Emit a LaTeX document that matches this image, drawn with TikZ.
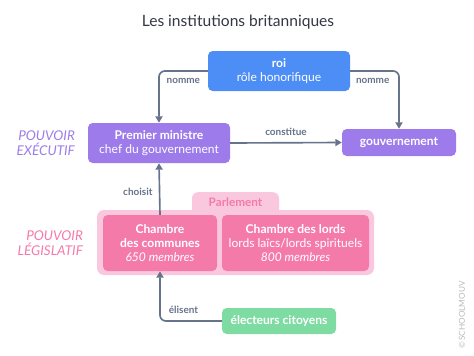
\documentclass[tikz,border=0pt]{standalone}
\usepackage{fontspec}
\setmainfont{Lato}
\usepackage{tikz}
\usetikzlibrary{arrows.meta, positioning, calc}
\definecolor{roiblue}{RGB}{76, 141, 246}
\definecolor{execpurple}{RGB}{157, 123, 234}
\definecolor{legipink}{RGB}{244, 122, 170}
\definecolor{parlbg}{RGB}{250, 200, 222}
\definecolor{votegreen}{RGB}{126, 220, 162}
\definecolor{linkgray}{RGB}{102, 115, 138}
\definecolor{titlegray}{RGB}{51, 56, 68}
\definecolor{markgray}{RGB}{185, 185, 185}

\begin{document}
\begin{tikzpicture}[x=0.03cm, y=-0.03cm,
          box/.style={rounded corners=4pt, text=white,
                      align=center, inner sep=0pt,
                      font=\fontsize{10.3}{12.3}\selectfont},
          link/.style={draw=linkgray, line width=1.4pt,
                       rounded corners=5pt,
                       -{Triangle[length=5.5pt, width=6pt]}},
          lbl/.style={font=\fontsize{8.5}{10}\selectfont\bfseries,
                      text=linkgray},
          power/.style={align=right, anchor=east,
                        font=\fontsize{11.5}{12.5}\selectfont\itshape},
      ]
      \useasboundingbox (0, 0) rectangle (474, 355);
      \node[font=\fontsize{13.3}{15}\selectfont, text=titlegray] (title)
          at (238, 22) {Les institutions britanniques};
      \node[box, fill=roiblue, minimum width=142*0.03cm,
            minimum height=40*0.03cm] (roi)
          at (279, 71) {\textbf{roi}\\r\^ole honorifique};
      \node[box, fill=execpurple, minimum width=142*0.03cm,
            minimum height=40*0.03cm] (pm)
          at (159, 143) {\textbf{Premier ministre}\\chef du gouvernement};
      \node[box, fill=execpurple, minimum width=114*0.03cm,
            minimum height=27*0.03cm, font=\fontsize{10.3}{12}\selectfont\bfseries] (gouv)
          at (399, 142.5) {gouvernement};
      % Parlement
      \node[fill=parlbg, rounded corners=5pt, minimum width=87*0.03cm,
            minimum height=26*0.03cm, text=legipink, anchor=north,
            font=\fontsize{10}{11}\selectfont\bfseries,
            text depth=6pt] (parltab)
          at (235.5, 192) {Parlement};
      \node[fill=parlbg, rounded corners=6pt, minimum width=277*0.03cm,
            minimum height=65*0.03cm] (parl)
          at (235.5, 242.5) {};
      \node[box, fill=legipink, minimum width=114*0.03cm,
            minimum height=56*0.03cm] (comm)
          at (160, 243) {\textbf{Chambre}\\\textbf{des communes}\\\textit{650 membres}};
      \node[box, fill=legipink, minimum width=147*0.03cm,
            minimum height=56*0.03cm] (lords)
          at (295.5, 243) {\textbf{Chambre des lords}\\lords la\"ics/lords spirituels\\\textit{800 membres}};
      \node[box, fill=votegreen, minimum width=114*0.03cm,
            minimum height=26*0.03cm, font=\fontsize{10.3}{12}\selectfont\bfseries] (elec)
          at (279, 321) {\'electeurs citoyens};
      \node[power, text=execpurple] (exec)
          at (79, 143) {POUVOIR\\EX\'ECUTIF};
      \node[power, text=legipink] (legi)
          at (87, 243) {POUVOIR\\L\'EGISLATIF};
      \draw[link] (roi.west) -| node[lbl, pos=0.25, below=2pt] {nomme} (pm.north);
      \draw[link] (roi.east) -| node[lbl, pos=0.23, below=2pt] {nomme} (gouv.north);
      \draw[link] (pm.east) -- node[lbl, above=2pt] {constitue} (gouv.west);
      \draw[link] (comm.north) -- node[lbl, left=2pt, pos=0.45] {choisit} (pm.south);
      \draw[link] (elec.west) -| node[lbl, pos=0.31, above=2pt] {\'elisent} (comm.south);
      \node[rotate=90, text=markgray, font=\fontsize{7}{8}\selectfont] (mark)
          at (462, 315) {\copyright\,SCHOOLMOUV};
      \end{tikzpicture}
\end{document}
